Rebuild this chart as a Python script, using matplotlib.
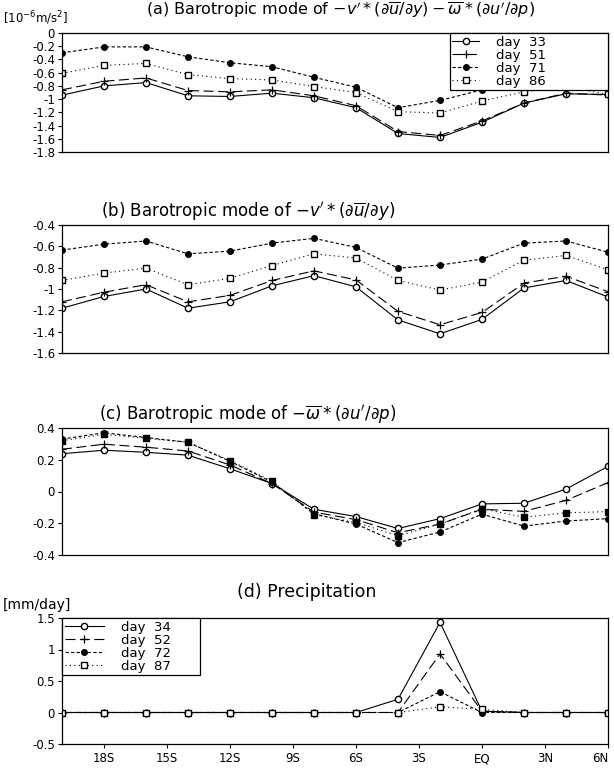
import matplotlib
matplotlib.use("Agg")
import matplotlib.pyplot as plt
from matplotlib.ticker import FormatStrFormatter

#Latitudes of the points, 20S to 6N every 2 degrees.
lat = [-20, -18, -16, -14, -12, -10, -8, -6, -4, -2, 0, 2, 4, 6]

#(a) total barotropic term
a_d33 = [-0.94, -0.80, -0.75, -0.95, -0.96, -0.91, -0.98, -1.13, -1.52, -1.58, -1.35, -1.06, -0.92, -0.93]
a_d51 = [-0.86, -0.73, -0.68, -0.87, -0.89, -0.86, -0.95, -1.10, -1.49, -1.55, -1.33, -1.06, -0.91, -0.94]
a_d71 = [-0.30, -0.21, -0.21, -0.36, -0.45, -0.51, -0.67, -0.82, -1.13, -1.02, -0.86, -0.79, -0.73, -0.82]
a_d86 = [-0.61, -0.49, -0.46, -0.63, -0.69, -0.71, -0.81, -0.90, -1.19, -1.21, -1.03, -0.89, -0.81, -0.93]

#(b) -v'*(du/dy)
b_d33 = [-1.18, -1.07, -1.00, -1.18, -1.12, -0.97, -0.875, -0.98, -1.29, -1.42, -1.285, -0.99, -0.92, -1.075]
b_d51 = [-1.12, -1.03, -0.96, -1.12, -1.06, -0.92, -0.83, -0.915, -1.21, -1.335, -1.22, -0.945, -0.88, -1.025]
b_d71 = [-0.635, -0.58, -0.55, -0.67, -0.645, -0.57, -0.525, -0.61, -0.805, -0.775, -0.72, -0.57, -0.55, -0.655]
b_d86 = [-0.92, -0.85, -0.805, -0.96, -0.90, -0.78, -0.67, -0.71, -0.92, -1.01, -0.935, -0.73, -0.685, -0.82]

#(c) -w*(du'/dp)
c_d33 = [0.238, 0.26, 0.247, 0.229, 0.143, 0.05, -0.112, -0.158, -0.233, -0.171, -0.078, -0.074, 0.015, 0.158]
c_d51 = [0.266, 0.298, 0.279, 0.255, 0.167, 0.05, -0.13, -0.177, -0.26, -0.205, -0.112, -0.125, -0.056, 0.056]
c_d71 = [0.33, 0.37, 0.34, 0.31, 0.19, 0.06, -0.14, -0.205, -0.322, -0.255, -0.143, -0.218, -0.186, -0.171]
c_d86 = [0.32, 0.36, 0.335, 0.31, 0.195, 0.065, -0.145, -0.195, -0.279, -0.205, -0.108, -0.162, -0.134, -0.127]

#(d) precipitation
d_d34 = [0, 0, 0, 0, 0, 0, 0, 0, 0.21, 1.43, 0.02, 0, 0, 0]
d_d52 = [0, 0, 0, 0, 0, 0, 0, 0, 0, 0.93, 0.02, 0, 0, 0]
d_d72 = [0, 0, 0, 0, 0, 0, 0, 0, 0, 0.33, 0.0, 0, 0, 0]
d_d87 = [0, 0, 0, 0, 0, 0, 0, 0, 0, 0.09, 0.05, 0, 0, 0]

xticks = [-18, -15, -12, -9, -6, -3, 0, 3, 6]
xlabels = ["18S", "15S", "12S", "9S", "6S", "3S", "EQ", "3N", "6N"]

plt.rcParams["mathtext.fontset"] = "dejavusans"
plt.rcParams["font.size"] = 8.5

W, H = 614, 777
fig = plt.figure(figsize=(W / 100, H / 100), dpi=100)

#Axes boxes in pixels: top, bottom
boxes = [(33, 152), (225, 353), (428, 555), (618, 744)]
left, right = 62, 608
axes = []
for top, bot in boxes:
    ax = fig.add_axes([left / W, 1 - bot / H, (right - left) / W, (bot - top) / H])
    axes.append(ax)

#Line styles for the four days
styles = [
    dict(color="black", lw=0.8, ls="-", marker="o", mfc="white", mec="black", ms=4.5),
    dict(color="black", lw=0.8, ls=(0, (9, 4)), marker="+", mec="black", ms=6, mew=0.9),
    dict(color="black", lw=0.8, ls=(0, (3, 2)), marker="o", mfc="black", mec="black", ms=4),
    dict(color="black", lw=0.8, ls=(0, (1, 3)), marker="s", mfc="white", mec="black", ms=4.5),
]

def draw(ax, series, labels, style_list):
    for y, lab, st in zip(series, labels, style_list):
        ax.plot(lat, y, label=lab, **st)
    ax.set_xlim(-20, 6)
    ax.yaxis.set_major_formatter(FormatStrFormatter("%g"))
    ax.tick_params(axis="y", direction="out", length=3, width=0.8, pad=2)
    for s in ax.spines.values():
        s.set_linewidth(0.9)

def box_legend(ax, loc, hlen):
    leg = ax.legend(loc=loc, borderaxespad=0, fancybox=False, framealpha=1,
                    edgecolor="black", fontsize=9.5, handlelength=hlen, labelspacing=0.0,
                    borderpad=0.2, handletextpad=1.3)
    leg.get_frame().set_linewidth(0.9)

days_a = ["day  33              ", "day  51              ", "day  71              ", "day  86              "]
days_d = ["day  34      ", "day  52      ", "day  72      ", "day  87      "]

#Panel a
ax = axes[0]
draw(ax, [a_d33, a_d51, a_d71, a_d86], days_a, styles)
ax.set_ylim(-1.8, 0)
ax.set_yticks([0, -0.2, -0.4, -0.6, -0.8, -1, -1.2, -1.4, -1.6, -1.8])
ax.set_xticks([])
box_legend(ax, "upper right", 2.0)

#Panel b
ax = axes[1]
draw(ax, [b_d33, b_d51, b_d71, b_d86], days_a, styles)
ax.set_ylim(-1.6, -0.4)
ax.set_yticks([-0.4, -0.6, -0.8, -1, -1.2, -1.4, -1.6])
ax.set_xticks([])

#Panel c, day 86 drawn with filled squares
ax = axes[2]
c_styles = list(styles)
c_styles[3] = dict(styles[3], mfc="black")
draw(ax, [c_d33, c_d51, c_d71, c_d86], days_a, c_styles)
ax.set_ylim(-0.4, 0.4)
ax.set_yticks([0.4, 0.2, 0, -0.2, -0.4])
ax.set_xticks([])

#Panel d
ax = axes[3]
draw(ax, [d_d34, d_d52, d_d72, d_d87], days_d, styles)
ax.set_ylim(-0.5, 1.5)
ax.set_yticks([1.5, 1, 0.5, 0, -0.5])
ax.set_xticks(xticks)
ax.set_xticklabels(xlabels)
ax.get_xticklabels()[-1].set_ha("right")
ax.tick_params(axis="x", direction="out", length=3, width=0.8, pad=3)
box_legend(ax, "upper left", 3.0)

#Titles and unit labels placed in pixels
def ftext(x, y, s, **kw):
    fig.text(x / W, 1 - y / H, s, va="center", **kw)

ftext(340, 10, r"(a) Barotropic mode of $-v'*(\partial\overline{u}/\partial y)-\overline{\omega}*(\partial u'/\partial p)$",
      ha="center", fontsize=11.5)
ftext(3, 18, r"[10$^{-6}$m/s$^{2}$]", ha="left", fontsize=8.5)
ftext(248, 212, r"(b) Barotropic mode of $-v'*(\partial\overline{u}/\partial y)$", ha="center", fontsize=12)
ftext(248, 415, r"(c) Barotropic mode of $-\overline{\omega}*(\partial u'/\partial p)$", ha="center", fontsize=12)
ftext(307, 592, "(d) Precipitation", ha="center", fontsize=12.5)
ftext(3, 605, "[mm/day]", ha="left", fontsize=10)

fig.savefig("out.png", dpi=100)
